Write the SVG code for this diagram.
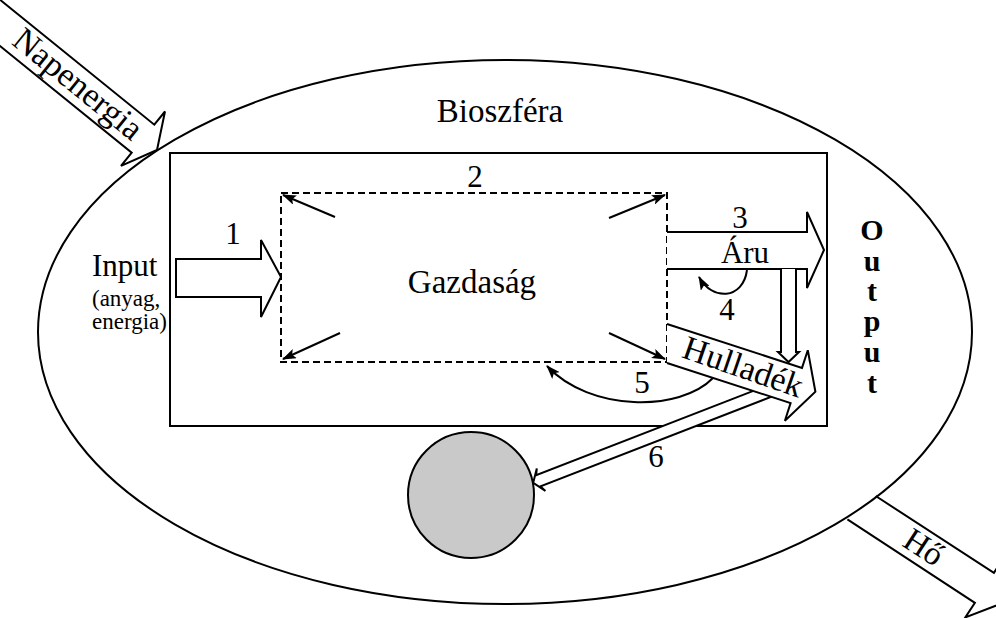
<svg xmlns="http://www.w3.org/2000/svg" width="996" height="618" viewBox="0 0 996 618">
<style>
.ln{fill:none;stroke:#000;stroke-width:2}
.blk{fill:#fff;stroke:#000;stroke-width:2;stroke-linejoin:miter}
.t{font-family:"Liberation Serif","Times New Roman",serif;fill:#000}
.big{font-size:31px}
.lg{font-size:33px}
.sm{font-size:23px}
.num{font-size:31px;text-anchor:middle}
.out{font-size:30px;font-weight:bold;text-anchor:middle}
</style>
<defs>
<marker id="ah" viewBox="0 0 14 10" refX="13" refY="5" markerWidth="14" markerHeight="10" markerUnits="userSpaceOnUse" orient="auto">
<path d="M0,0 L14,5 L0,10 L3,5 Z" fill="#000"/>
</marker>
</defs>
<rect width="996" height="618" fill="#fff"/>

<g id="ho">
<path class="blk" d="M875.7,496 L993.9,572.9 L1003.5,558.2 L1006.3,601.7 L965.3,617.4 L974.9,602.8 L847.4,519.4"/>
<text class="t lg" text-anchor="middle" transform="translate(924,547) rotate(33)" x="0" y="11">Hő</text>
</g>

<g id="bioszfera">
<ellipse class="ln" cx="505" cy="332" rx="467" ry="272"/>
<text class="t lg" x="500" y="122" text-anchor="middle">Bioszféra</text>
</g>

<g id="napenergia">
<path class="blk" d="M-26,-21.3 L154.3,124.7 L165,111.5 L157,150 L121,165.9 L131.7,152.7 L-48.6,6.7"/>
<text class="t" style="font-size:34px" text-anchor="middle" transform="translate(78,84) rotate(39)" x="0" y="11">Napenergia</text>
</g>

<g id="rendszer">
<rect class="ln" x="170" y="153" width="657" height="273"/>
</g>

<g id="output">
<text class="t out" x="872" y="240">O</text>
<text class="t out" x="872" y="271">u</text>
<text class="t out" x="872" y="301">t</text>
<text class="t out" x="872" y="331">p</text>
<text class="t out" x="872" y="362">u</text>
<text class="t out" x="872" y="393">t</text>
</g>

<g id="input">
<text class="t big" x="92" y="276">Input</text>
<text class="t sm" x="92" y="306">(anyag,</text>
<text class="t sm" x="92" y="329">energia)</text>
</g>

<g id="gazdasag">
<rect x="281" y="193" width="386" height="169" fill="none" stroke="#000" stroke-width="2" stroke-dasharray="7,4"/>
<text class="t lg" x="472" y="293" text-anchor="middle">Gazdaság</text>
</g>

<g id="kozet">
<circle cx="471" cy="495" r="63" fill="#c8c9c8" stroke="#000" stroke-width="2"/>
</g>

<g id="connectors">
<path class="blk" d="M176,259 L261,259 L261,240 L281,277 L261,317 L261,297 L176,297 Z"/>
<line class="ln" x1="335" y1="217" x2="283" y2="195" marker-end="url(#ah)"/>
<line class="ln" x1="340" y1="333" x2="283" y2="359" marker-end="url(#ah)"/>
<line class="ln" x1="609" y1="218" x2="665" y2="195" marker-end="url(#ah)"/>
<line class="ln" x1="609" y1="333" x2="665" y2="359" marker-end="url(#ah)"/>
<path class="blk" d="M667,232 L807,232 L807,212 L824,250 L807,288 L807,269 L667,269"/>
<path class="blk" d="M781,269 L781,352 L778,352 L788.5,362 L799,352 L796,352 L796,269"/>
<path class="blk" d="M773.8,382.9 L536.1,475.2 L536.8,468.5 L533.2,482.8 L545.4,490.9 L540.5,486.4 L778.2,394.1"/>
<path class="blk" d="M667,324 L802,367.9 L807.8,350.3 L815.4,391.7 L784.9,420.7 L790.6,403.1 L667,363"/>
<path class="ln" d="M747,270 C743,300 712,301 699,277" marker-end="url(#ah)"/>
<path class="ln" d="M713,378 C680,412 590,412 547,366" marker-end="url(#ah)"/>
</g>

<g id="labels">
<text class="t num" x="233" y="244">1</text>
<text class="t num" x="475" y="187">2</text>
<text class="t num" x="740" y="228">3</text>
<text class="t big" x="745" y="263" text-anchor="middle">Áru</text>
<text class="t num" x="727" y="320">4</text>
<text class="t num" x="642" y="393">5</text>
<text class="t num" x="656" y="467">6</text>
<text class="t" style="font-size:34px" text-anchor="middle" transform="translate(743,367) rotate(19)" x="0" y="11">Hulladék</text>
</g>
</svg>
